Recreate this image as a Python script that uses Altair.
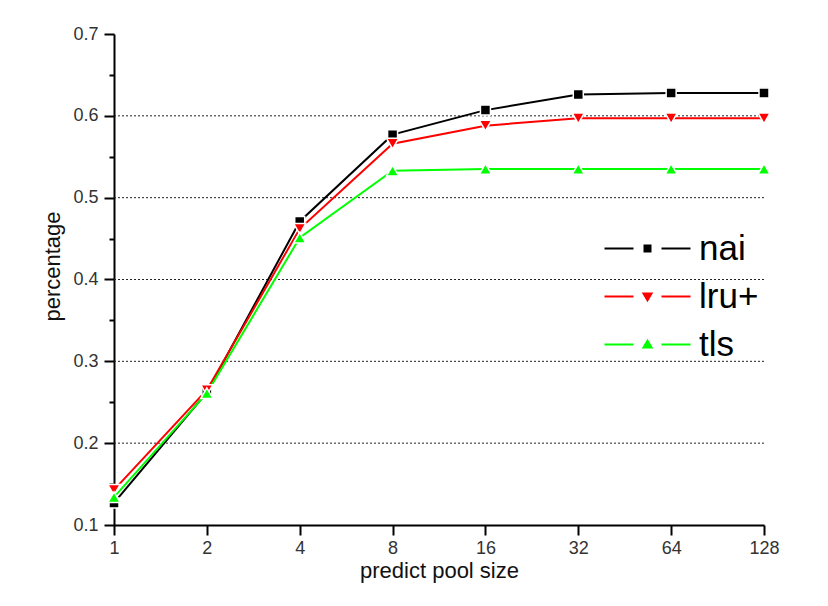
import altair as alt
import pandas as pd

# ---- data ----
pool_sizes = [1, 2, 4, 8, 16, 32, 64, 128]
nai = [0.127, 0.262, 0.471, 0.577, 0.607, 0.626, 0.628, 0.628]
lru_plus = [0.143, 0.265, 0.462, 0.566, 0.588, 0.597, 0.597, 0.597]
tls = [0.134, 0.261, 0.451, 0.533, 0.535, 0.535, 0.535, 0.535]

series_names = ["nai", "lru+", "tls"]
series_colors = ["#000000", "#ff0000", "#00ff00"]
marker_shapes = ["square", "triangle-down", "triangle-up"]

y_ticks = [0.1, 0.15, 0.2, 0.25, 0.3, 0.35, 0.4, 0.45, 0.5, 0.55, 0.6, 0.65, 0.7]
grid_values = [0.2, 0.3, 0.4, 0.5, 0.6]

FONT = "Liberation Sans"

rows = []
for name, vals in zip(series_names, [nai, lru_plus, tls]):
    for x, v in zip(pool_sizes, vals):
        rows.append({"size": x, "value": v, "series": name})
df = pd.DataFrame(rows)
grid_df = pd.DataFrame({"g": grid_values})

# legend symbols: line - marker - line (custom SVG paths)
seg = "M-4.3,0L-1.4,0M1.4,0L4.3,0"
legend_paths = [
    seg + "M-0.3,-0.3L0.3,-0.3L0.3,0.3L-0.3,0.3Z",
    seg + "M-0.4,-0.3L0.4,-0.3L0,0.38Z",
    seg + "M-0.4,0.3L0.4,0.3L0,-0.38Z",
]

yscale = alt.Scale(domain=[0.1, 0.7], nice=False, zero=False)
xscale = alt.Scale(type="log", base=2, domain=[1, 128], nice=False)

y_axis = alt.Axis(
    values=y_ticks,
    labelExpr="round(datum.value*100) % 10 == 0 ? format(datum.value, '.1f') : ''",
    tickSize={"condition": {"test": "round(datum.value*100) % 10 != 0", "value": 5}, "value": 10},
    grid=False,
    domainColor="black", domainWidth=2,
    tickColor="black", tickWidth=2,
    labelFont=FONT, labelFontSize=18, labelColor="#333333", labelPadding=6,
    title="percentage", titleFont=FONT, titleFontSize=22, titleFontWeight="normal",
    titleColor="#111111", titlePadding=8, titleY=232,
)
x_axis = alt.Axis(
    values=pool_sizes, format="d", grid=False,
    domainColor="black", domainWidth=2,
    tickColor="black", tickWidth=2, tickSize=10,
    labelFont=FONT, labelFontSize=18, labelColor="#333333", labelPadding=4,
    labelFlush=False, labelOverlap=False,
    title="predict pool size", titleFont=FONT, titleFontSize=22, titleFontWeight="normal",
    titleColor="#111111", titlePadding=3,
)

X = alt.X("size:Q", scale=xscale, axis=x_axis, title="predict pool size")
Y = alt.Y("value:Q", scale=yscale, axis=y_axis, title="percentage")

grid = alt.Chart(grid_df).mark_rule(color="#222222", strokeWidth=1, strokeDash=[2, 2]).encode(
    y=alt.Y("g:Q", scale=yscale, axis=y_axis, title="percentage")
)

line_layers = []
marker_layers = []
for name, color, shape in zip(series_names, series_colors, marker_shapes):
    size = 100 if shape == "square" else 150
    line_layers.append(
        alt.Chart(df).transform_filter(alt.datum.series == name)
        .mark_line(strokeWidth=2, color=color)
        .encode(x=X, y=Y)
    )
    marker_layers.append(
        alt.Chart(df).transform_filter(alt.datum.series == name)
        .mark_point(shape=shape, filled=True, size=size, opacity=1,
                    fill=color, stroke="white", strokeWidth=1.5)
        .encode(x=X, y=Y)
    )

leg = alt.Legend(
    orient="none", legendX=516, legendY=197, title=None,
    labelFont=FONT, labelFontSize=35, labelColor="black", labelOffset=34,
    symbolSize=400, symbolStrokeWidth=2, symbolOpacity=1, rowPadding=12, padding=0,
)
legend_layer = alt.Chart(df).transform_filter("false").mark_point(filled=True).encode(
    x=X, y=Y,
    fill=alt.Fill("series:N", scale=alt.Scale(domain=series_names, range=series_colors), legend=leg),
    stroke=alt.Stroke("series:N", scale=alt.Scale(domain=series_names, range=series_colors), legend=leg),
    shape=alt.Shape("series:N", scale=alt.Scale(domain=series_names, range=legend_paths), legend=leg),
)

chart = alt.layer(grid, *line_layers, *marker_layers, legend_layer).properties(
    width=650, height=491,
    background="white",
    autosize=alt.AutoSizeParams(type="none"),
    padding={"left": 106, "top": 26, "right": 40, "bottom": 60},
).configure_view(stroke=None)

chart.save("out.html", embed_options={"renderer": "svg", "actions": False})
